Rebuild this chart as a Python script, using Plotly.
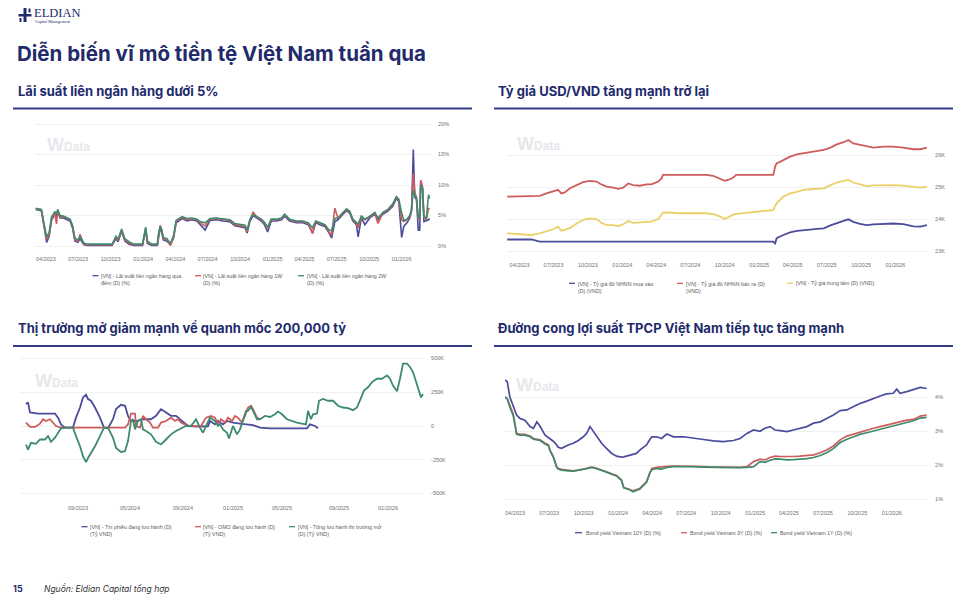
import plotly.graph_objects as go

W, H = 964, 607
NAVY = "#222a6b"
C_BLUE = "#4b4c9c"
C_RED = "#cf5c5c"
C_GREEN = "#3d8b6d"
C_YELLOW = "#ebd067"
GRID = "#f0f0f0"
TICKFONT = dict(family="Liberation Sans, Arial, sans-serif", size=5.5, color="#707070")
LEGFONT = dict(family="Liberation Sans, Arial, sans-serif", size=5.3, color="#5a5a5a")
HEADFONT = "Inter, Roboto, Arial, sans-serif"

# shared quarterly tick labels for the date axes
q_ticks = ["2023-04-01", "2023-07-01", "2023-10-01", "2024-01-01", "2024-04-01", "2024-07-01",
           "2024-10-01", "2025-01-01", "2025-04-01", "2025-07-01", "2025-10-01", "2026-01-01"]
q_labels = ["04/2023", "07/2023", "10/2023", "01/2024", "04/2024", "07/2024",
            "10/2024", "01/2025", "04/2025", "07/2025", "10/2025", "01/2026"]

# ---------------- Chart 1: interbank rates (%) ----------------
ib_dates = [
    "2023-03-03", "2023-03-19", "2023-03-29", "2023-04-03", "2023-04-10", "2023-04-17", "2023-04-26", "2023-05-01", "2023-05-04", "2023-05-11",
    "2023-05-20", "2023-05-29", "2023-06-08", "2023-06-15", "2023-06-22", "2023-07-01", "2023-07-06", "2023-07-17", "2023-07-28", "2023-08-15",
    "2023-09-01", "2023-09-18", "2023-10-05", "2023-10-16", "2023-10-22", "2023-11-01", "2023-11-10", "2023-11-22", "2023-12-05", "2023-12-30",
    "2024-01-08", "2024-01-13", "2024-01-25", "2024-02-10", "2024-02-13", "2024-02-18", "2024-02-22", "2024-02-27", "2024-03-08", "2024-03-18",
    "2024-03-27", "2024-04-03", "2024-04-10", "2024-04-20", "2024-05-04", "2024-05-18", "2024-06-01", "2024-06-10", "2024-06-24", "2024-07-08",
    "2024-07-27", "2024-08-14", "2024-09-02", "2024-09-16", "2024-09-30", "2024-10-15", "2024-10-21", "2024-10-29", "2024-11-07", "2024-11-16",
    "2024-11-30", "2024-12-09", "2024-12-18", "2024-12-28", "2025-01-12", "2025-01-26", "2025-02-04", "2025-02-18", "2025-03-09", "2025-03-28",
    "2025-04-12", "2025-04-24", "2025-05-03", "2025-05-15", "2025-05-29", "2025-06-10", "2025-06-17", "2025-06-26", "2025-07-05", "2025-07-19",
    "2025-07-29", "2025-08-07", "2025-08-16", "2025-08-26", "2025-08-31", "2025-09-09", "2025-09-19", "2025-10-03", "2025-10-17", "2025-10-26",
    "2025-11-09", "2025-11-23", "2025-12-07", "2025-12-17", "2025-12-24", "2026-01-01", "2026-01-07", "2026-01-16", "2026-01-24", "2026-01-29",
    "2026-02-03", "2026-02-07", "2026-02-12", "2026-02-17", "2026-02-21", "2026-02-24", "2026-03-01", "2026-03-05", "2026-03-12", "2026-03-18", "2026-03-21",
]
ib_overnight = [
    6.0, 5.8, 2.4, 0.6, 1.6, 4.3, 5.2, 4.8, 5.6, 4.6,
    4.6, 4.3, 4.1, 3.0, 0.8, 0.6, 1.2, 0.2, 0.1, 0.1,
    0.1, 0.1, 0.1, 1.2, 0.7, 2.4, 0.8, 0.3, 0.1, 0.1,
    2.6, 0.4, 0.1, 0.1, 1.5, 3.0, 2.3, 1.0, 0.8, 0.2,
    1.3, 3.8, 4.1, 4.5, 4.1, 4.3, 4.1, 3.5, 2.6, 4.2,
    4.3, 4.1, 4.0, 3.3, 3.2, 3.0, 2.1, 4.1, 5.0, 4.6,
    4.1, 3.5, 2.3, 4.1, 4.1, 4.3, 4.9, 4.1, 3.8, 3.8,
    3.5, 2.1, 3.8, 3.5, 3.2, 2.1, 1.3, 4.0, 4.3, 5.2,
    5.8, 5.4, 4.1, 3.5, 1.5, 4.6, 3.5, 4.6, 5.2, 4.3,
    5.2, 5.7, 6.5, 7.8, 7.3, 1.4, 3.2, 3.8, 4.6, 5.7,
    15.8, 8.0, 7.6, 2.6, 2.6, 10.8, 9.5, 4.0, 4.1, 4.3, 4.5,
]
ib_1w = [
    6.1, 5.9, 2.6, 1.1, 1.9, 4.6, 5.4, 3.6, 5.8, 4.8,
    4.8, 4.5, 4.3, 3.2, 1.0, 0.8, 1.9, 0.3, 0.2, 0.2,
    0.2, 0.2, 0.2, 1.4, 0.9, 2.6, 1.0, 0.5, 0.2, 0.2,
    2.9, 0.6, 0.2, 0.2, 1.8, 3.4, 2.6, 1.2, 1.0, 0.1,
    1.5, 4.0, 4.3, 4.7, 4.3, 4.5, 4.3, 3.8, 3.3, 4.4,
    4.5, 4.3, 4.2, 3.5, 3.4, 3.2, 2.3, 4.3, 5.6, 4.8,
    4.3, 3.7, 2.9, 4.3, 4.3, 4.5, 5.1, 4.3, 4.0, 4.0,
    3.7, 2.1, 4.0, 3.7, 3.4, 2.3, 1.8, 6.2, 4.5, 5.4,
    6.0, 5.6, 4.3, 3.7, 3.0, 4.8, 4.3, 4.8, 5.4, 3.7,
    5.4, 5.9, 6.7, 8.0, 7.5, 4.3, 4.0, 4.3, 4.8, 5.9,
    11.9, 8.9, 7.8, 4.3, 4.6, 10.8, 9.7, 4.8, 4.3, 6.2, 6.0,
]
ib_2w = [
    6.2, 6.0, 2.9, 1.5, 2.2, 4.8, 5.6, 5.2, 6.0, 5.0,
    4.9, 4.7, 4.4, 3.4, 1.3, 1.0, 1.5, 0.5, 0.3, 0.3,
    0.3, 0.3, 0.3, 1.6, 1.1, 2.8, 1.2, 0.7, 0.3, 0.3,
    3.1, 0.8, 0.3, 0.3, 2.0, 3.2, 2.8, 1.4, 1.2, 0.4,
    1.7, 4.2, 4.5, 4.8, 4.5, 4.6, 4.4, 4.0, 3.8, 4.5,
    4.6, 4.4, 4.3, 3.7, 3.6, 3.4, 2.6, 4.4, 5.1, 4.9,
    4.4, 3.9, 3.1, 4.4, 4.4, 4.6, 5.2, 4.4, 4.1, 4.1,
    3.8, 3.0, 4.1, 3.8, 3.5, 2.6, 2.5, 4.5, 4.6, 5.5,
    6.1, 5.7, 4.4, 3.9, 3.6, 4.9, 4.4, 4.9, 5.5, 4.6,
    5.5, 6.0, 6.9, 8.1, 7.7, 5.4, 4.2, 4.4, 5.0, 6.0,
    9.2, 8.2, 8.0, 4.5, 4.8, 10.0, 9.4, 4.9, 4.5, 8.4, 7.8,
]
ib_names = [
    "[VN] - Lãi suất liên ngân hàng qua<br>đêm (D) (%)",
    "[VN] - Lãi suất liên ngân hàng 1W<br>(D) (%)",
    "[VN] - Lãi suất liên ngân hàng 2W<br>(D) (%)",
]
ib_ticks = [0, 5, 10, 15, 20]
ib_ticktext = ["0%", "5%", "10%", "15%", "20%"]

# ---------------- Chart 2: USD/VND (VND) ----------------
fx_dates = [
    "2023-02-27", "2023-04-02", "2023-05-03", "2023-05-25", "2023-06-12", "2023-06-30", "2023-07-13", "2023-07-22", "2023-07-31", "2023-08-14",
    "2023-09-01", "2023-09-18", "2023-10-06", "2023-10-24", "2023-11-06", "2023-11-20", "2023-12-08", "2023-12-21", "2024-01-03", "2024-01-17",
    "2024-01-30", "2024-02-17", "2024-03-06", "2024-03-19", "2024-04-06", "2024-04-15", "2024-04-19", "2024-04-28", "2024-06-03", "2024-07-09",
    "2024-08-13", "2024-08-31", "2024-09-18", "2024-10-01", "2024-10-10", "2024-10-23", "2024-11-01", "2024-12-07", "2024-12-29", "2025-01-21",
    "2025-02-08", "2025-02-13", "2025-02-17", "2025-03-07", "2025-03-25", "2025-04-12", "2025-04-30", "2025-05-18", "2025-06-05", "2025-06-23",
    "2025-07-11", "2025-07-28", "2025-08-15", "2025-08-28", "2025-09-10", "2025-09-28", "2025-10-16", "2025-11-03", "2025-11-30", "2025-12-26",
    "2026-01-22", "2026-02-18", "2026-03-08", "2026-03-26",
]
fx_buy = [
    23360, 23360, 23360, 23290, 23290, 23290, 23290, 23290, 23290, 23290,
    23290, 23290, 23290, 23290, 23290, 23290, 23290, 23290, 23290, 23290,
    23290, 23290, 23290, 23290, 23290, 23290, 23290, 23290, 23290, 23290,
    23290, 23290, 23290, 23290, 23290, 23290, 23290, 23290, 23290, 23290,
    23290, 23240, 23400, 23500, 23580, 23630, 23660, 23670, 23690, 23710,
    23800, 23880, 23940, 23990, 23910, 23850, 23810, 23830, 23850, 23860,
    23840, 23770, 23760, 23810,
]
fx_sell = [
    24700, 24700, 24720, 24720, 24800, 24850, 24910, 24800, 24830, 24960,
    25060, 25150, 25190, 25170, 25080, 25010, 24980, 24940, 24980, 25110,
    25060, 25040, 25080, 25080, 25170, 25270, 25380, 25380, 25380, 25380,
    25380, 25350, 25270, 25190, 25220, 25290, 25380, 25380, 25380, 25380,
    25380, 25640, 25740, 25840, 25950, 26020, 26050, 26100, 26130, 26160,
    26230, 26330, 26400, 26470, 26360, 26310, 26260, 26230, 26260, 26260,
    26230, 26180, 26180, 26230,
]
fx_central = [
    23550, 23520, 23500, 23550, 23620, 23680, 23760, 23630, 23660, 23720,
    23860, 23970, 24020, 24000, 23880, 23810, 23810, 23780, 23830, 23940,
    23880, 23900, 23920, 23920, 24000, 24150, 24200, 24210, 24180, 24180,
    24180, 24150, 24080, 24000, 24060, 24130, 24160, 24200, 24230, 24250,
    24280, 24400, 24490, 24700, 24800, 24850, 24910, 24930, 24940, 24960,
    25060, 25140, 25190, 25220, 25140, 25090, 25030, 25050, 25060, 25060,
    25040, 24990, 24980, 25010,
]
fx_names = [
    "[VN] - Tỷ giá đô NHNN mua vào<br>(D) (VND)",
    "[VN] - Tỷ giá đô NHNN bán ra (D)<br>(VND)",
    "[VN] - Tỷ giá trung tâm (D) (VND)",
]
fx_ticks = [23000, 24000, 25000, 26000]
fx_ticktext = ["23K", "24K", "25K", "26K"]

# ---------------- Chart 3: open market (ty VND), x = session index ----------------
bills_idx = [4, 6, 8, 16, 33, 36, 39, 43, 51, 54, 58, 61, 64, 66, 69, 73, 78, 82, 86, 91, 94, 99, 103, 106, 109,
             114, 121, 129, 134, 139, 144, 149, 154, 158, 161, 166, 175, 186, 188, 193, 196, 201, 205, 211, 218,
             225, 231, 238, 248, 285, 288, 293, 296]
bills_k = [162, 175, 100, 92, 92, 62, 12, -12, -12, 62, 137, 212, 232, 200, 187, 137, 62, -12, -17, 50, 125, 157, 150, 75, 37,
           37, 50, 50, 75, 125, 100, 75, 75, 50, 25, 0, -5, -2, 37, 12, 37, 12, 37, 25, 17,
           12, 7, -12, -17, -17, 12, 0, -17]
omo_idx = [4, 8, 13, 18, 21, 24, 28, 31, 34, 39, 103, 106, 109, 113, 114, 118, 121, 124, 128, 131, 136, 139, 144, 149, 153,
           156, 159, 164, 169, 179, 184, 189, 193, 196, 199, 203, 206, 210, 213, 216, 220, 223, 226, 229, 231, 235, 238]
omo_k = [25, -7, -7, 17, 50, 37, 50, 25, 0, -12, -12, 12, 92, 92, 0, -12, 75, 50, 25, -12, -12, 25, 37, 62, 37,
         50, 25, 7, 0, 0, 62, 75, 62, 12, 50, 25, 62, 37, 75, 62, 25, 75, 137, 150, 125, 62, 50]
total_idx = [4, 6, 9, 14, 18, 23, 26, 29, 33, 36, 39, 43, 51, 54, 58, 61, 64, 66, 69, 73,
             78, 82, 86, 91, 94, 99, 103, 106, 109, 111, 113, 116, 119, 121, 124, 129, 134, 139, 144, 149,
             154, 159, 164, 169, 174, 178, 181, 184, 188, 193, 196, 198, 201, 205, 207, 211, 215, 218, 221, 224,
             226, 229, 231, 235, 238, 243, 248, 253, 256, 260, 265, 270, 275, 280, 284, 286, 289, 291, 295, 297,
             301, 306, 311, 316, 321, 326, 331, 335, 338, 342, 346, 350, 355, 360, 365, 368, 371, 375, 378, 381,
             385, 388, 391, 393, 396, 399, 401]
total_k = [-137, -175, -125, -132, -100, -100, -75, -117, -87, -50, -17, -12, -12, -75, -150, -225, -267, -237, -200, -150,
           -75, -12, -12, -87, -162, -192, -187, -112, 37, 50, -25, 37, 50, -25, -37, -62, -117, -137, -100, -62,
           -37, -17, 0, 0, 50, -12, -50, 0, 62, 37, 0, 12, -25, -50, -92, 0, -62, -25, 37, 112,
           112, 142, 112, 50, 50, 75, 67, 87, 107, 87, 50, 37, 25, 17, 12, 112, 50, 87, 92, 187,
           200, 187, 187, 150, 137, 132, 117, 137, 187, 262, 287, 325, 350, 350, 375, 350, 300, 257, 350, 462,
           462, 437, 400, 350, 287, 212, 237]
om_names = [
    "[VN] - Tín phiếu đang lưu hành (D)<br>(Tỷ VND)",
    "[VN] - OMO đang lưu hành (D)<br>(Tỷ VND)",
    "[VN] - Tổng lưu hành thị trường mở<br>(D) (Tỷ VND)",
]
om_tick_idx = [56, 108, 161, 211, 260, 317, 366]
om_tick_text = ["09/2023", "05/2024", "09/2024", "01/2025", "05/2025", "09/2025", "01/2026"]
om_yticks = [-500000, -250000, 0, 250000, 500000]
om_ytext = ["-500K", "-250K", "0", "250K", "500K"]

# ---------------- Chart 4: government bond yields (%) ----------------
by_dates = [
    "2023-03-05", "2023-03-11", "2023-03-18", "2023-03-27", "2023-04-05", "2023-04-14", "2023-04-27", "2023-05-11", "2023-05-20", "2023-05-29",
    "2023-06-07", "2023-06-20", "2023-06-29", "2023-07-03", "2023-07-12", "2023-07-21", "2023-07-25", "2023-08-03", "2023-08-08", "2023-08-21",
    "2023-09-03", "2023-09-17", "2023-09-30", "2023-10-09", "2023-10-18", "2023-10-27", "2023-11-05", "2023-11-18", "2023-12-01", "2023-12-15",
    "2023-12-28", "2024-01-10", "2024-01-16", "2024-02-01", "2024-02-10", "2024-02-19", "2024-02-28", "2024-03-17", "2024-03-26", "2024-03-31",
    "2024-04-13", "2024-04-26", "2024-05-10", "2024-05-28", "2024-06-24", "2024-07-20", "2024-08-16", "2024-09-12", "2024-10-08", "2024-11-04",
    "2024-11-22", "2024-12-10", "2024-12-28", "2025-01-14", "2025-01-27", "2025-02-10", "2025-02-23", "2025-03-09", "2025-03-27", "2025-04-13",
    "2025-05-01", "2025-05-19", "2025-06-06", "2025-06-24", "2025-07-11", "2025-07-29", "2025-08-16", "2025-09-03", "2025-09-21", "2025-10-08",
    "2025-10-26", "2025-11-13", "2025-12-01", "2025-12-18", "2026-01-05", "2026-01-14", "2026-01-23", "2026-02-10", "2026-02-28", "2026-03-18",
    "2026-04-04",
]
by_10y = [
    4.50, 4.45, 4.00, 3.72, 3.47, 3.37, 3.32, 3.13, 3.08, 3.27,
    3.13, 2.88, 2.80, 2.78, 2.70, 2.59, 2.52, 2.49, 2.52, 2.59,
    2.64, 2.72, 2.83, 2.93, 3.13, 2.98, 2.83, 2.64, 2.49, 2.34,
    2.26, 2.23, 2.24, 2.29, 2.30, 2.34, 2.44, 2.59, 2.75, 2.83,
    2.83, 2.78, 2.91, 2.83, 2.83, 2.78, 2.75, 2.71, 2.69, 2.72,
    2.78, 2.93, 3.03, 2.99, 3.08, 3.13, 3.03, 3.01, 2.98, 3.03,
    3.08, 3.13, 3.23, 3.27, 3.37, 3.47, 3.60, 3.62, 3.72, 3.81,
    3.88, 3.96, 4.03, 4.09, 4.11, 4.23, 4.11, 4.16, 4.23, 4.28,
    4.25,
]
by_3y = [
    4.00, 3.95, 3.75, 3.50, 2.93, 2.90, 2.90, 2.85, 2.78, 2.76,
    2.74, 2.64, 2.59, 2.44, 2.25, 1.95, 1.90, 1.87, 1.86, 1.84,
    1.83, 1.85, 1.87, 1.90, 1.93, 1.93, 1.90, 1.86, 1.80, 1.74,
    1.69, 1.56, 1.34, 1.28, 1.24, 1.28, 1.31, 1.51, 1.80, 1.90,
    1.93, 1.95, 1.96, 1.97, 1.97, 1.96, 1.95, 1.94, 1.93, 1.93,
    1.93, 1.95, 2.10, 2.17, 2.15, 2.22, 2.26, 2.25, 2.24, 2.25,
    2.26, 2.28, 2.30, 2.36, 2.44, 2.56, 2.74, 2.85, 2.91, 2.98,
    3.03, 3.08, 3.13, 3.18, 3.23, 3.25, 3.27, 3.32, 3.34, 3.44,
    3.47,
]
by_1y = [
    4.00, 3.95, 3.70, 3.45, 2.90, 2.88, 2.88, 2.83, 2.76, 2.74,
    2.72, 2.62, 2.57, 2.42, 2.23, 1.93, 1.88, 1.85, 1.84, 1.83,
    1.82, 1.84, 1.86, 1.89, 1.92, 1.92, 1.89, 1.85, 1.79, 1.73,
    1.68, 1.55, 1.33, 1.27, 1.21, 1.25, 1.29, 1.49, 1.78, 1.86,
    1.90, 1.88, 1.93, 1.95, 1.96, 1.95, 1.94, 1.93, 1.92, 1.92,
    1.92, 1.93, 1.95, 2.10, 2.08, 2.14, 2.18, 2.17, 2.15, 2.16,
    2.17, 2.19, 2.22, 2.28, 2.36, 2.48, 2.66, 2.76, 2.83, 2.90,
    2.95, 3.00, 3.05, 3.10, 3.15, 3.18, 3.22, 3.26, 3.30, 3.38,
    3.40,
]
by_names = [
    "Bond yield Vietnam 10Y (D) (%)",
    "Bond yield Vietnam 3Y (D) (%)",
    "Bond yield Vietnam 1Y (D) (%)",
]
by_ticks = [1, 2, 3, 4]
by_ticktext = ["1%", "2%", "3%", "4%"]


def fx(px):
    return px / W


def fy(py):
    return 1 - py / H


fig = go.Figure()

# chart 1
for vals, col, nm in zip([ib_overnight, ib_1w, ib_2w], [C_BLUE, C_RED, C_GREEN], ib_names):
    fig.add_trace(go.Scatter(x=ib_dates, y=vals, mode="lines", name=nm, xaxis="x", yaxis="y",
                             line=dict(color=col, width=1.6), showlegend=False))
# chart 2
for vals, col, nm in zip([fx_buy, fx_sell, fx_central], [C_BLUE, C_RED, C_YELLOW], fx_names):
    fig.add_trace(go.Scatter(x=fx_dates, y=vals, mode="lines", name=nm, xaxis="x2", yaxis="y2",
                             line=dict(color=col, width=1.8), showlegend=False))
# chart 3
for xs, vals, col, nm in zip([bills_idx, omo_idx, total_idx], [bills_k, omo_k, total_k],
                             [C_BLUE, C_RED, C_GREEN], om_names):
    fig.add_trace(go.Scatter(x=xs, y=[v * 1000 for v in vals], mode="lines", name=nm, xaxis="x3", yaxis="y3",
                             line=dict(color=col, width=1.8), showlegend=False))
# chart 4
for vals, col, nm in zip([by_10y, by_3y, by_1y], [C_BLUE, C_RED, C_GREEN], by_names):
    fig.add_trace(go.Scatter(x=by_dates, y=vals, mode="lines", name=nm, xaxis="x4", yaxis="y4",
                             line=dict(color=col, width=1.7), showlegend=False))

HIDE = "rgba(0,0,0,0)"
xcommon = dict(showgrid=False, zeroline=False, showline=False, ticks="outside", ticklen=6,
               tickcolor=HIDE, tickfont=TICKFONT, fixedrange=True)
ycommon = dict(side="right", showgrid=True, gridcolor=GRID, gridwidth=1, zeroline=False, showline=False,
               ticks="outside", ticklen=5, tickcolor=HIDE, tickfont=TICKFONT, fixedrange=True)

fig.update_layout(
    width=W, height=H, margin=dict(l=0, r=0, t=0, b=0),
    paper_bgcolor="white", plot_bgcolor="rgba(0,0,0,0)", showlegend=False,
    xaxis=dict(xcommon, domain=[fx(35), fx(431)], anchor="y", type="date",
               range=["2023-03-01", "2026-03-25"], tickvals=q_ticks, ticktext=q_labels, ticklen=4),
    yaxis=dict(ycommon, domain=[fy(249.05), fy(120.95)], anchor="x", range=[-0.5, 20.5],
               tickvals=ib_ticks, ticktext=ib_ticktext),
    xaxis2=dict(xcommon, domain=[fx(506.8), fx(928)], anchor="y2", type="date",
                range=["2023-02-26", "2026-03-29"], tickvals=q_ticks, ticktext=q_labels, ticklen=5),
    yaxis2=dict(ycommon, domain=[fy(254.2), fy(119.8)], anchor="x2", range=[22900, 27100],
                tickvals=fx_ticks, ticktext=fx_ticktext),
    xaxis3=dict(xcommon, domain=[fx(20), fx(424)], anchor="y3", range=[-2, 402],
                tickvals=om_tick_idx, ticktext=om_tick_text),
    yaxis3=dict(ycommon, domain=[fy(496.2), fy(355.8)], anchor="x3", range=[-520000, 520000],
                tickvals=om_yticks, ticktext=om_ytext),
    xaxis4=dict(xcommon, domain=[fx(505), fx(927)], anchor="y4", type="date",
                range=["2023-03-05", "2026-04-05"], tickvals=q_ticks, ticktext=q_labels, ticklen=3),
    yaxis4=dict(ycommon, domain=[fy(504.1), fy(368.1)], anchor="x4", range=[0.85, 4.85],
                tickvals=by_ticks, ticktext=by_ticktext, ticklen=6),
)

shapes = []
annotations = []


def hline(x0, x1, y, color, width):
    shapes.append(dict(type="line", xref="paper", yref="paper", x0=fx(x0), x1=fx(x1), y0=fy(y), y1=fy(y),
                       line=dict(color=color, width=width)))


def text(x, y, s, size, color, family=HEADFONT, xanchor="left", align="left", weight=None,
         style=None):
    f = dict(family=family, size=size, color=color)
    if weight is not None:
        f["weight"] = weight
    if style is not None:
        f["style"] = style
    annotations.append(dict(x=fx(x), y=fy(y), xref="paper", yref="paper", text=s, showarrow=False,
                            xanchor=xanchor, yanchor="middle", align=align, font=f, borderpad=0))


# header / logo
shapes.append(dict(type="rect", xref="paper", yref="paper", x0=fx(23.5), x1=fx(26.5), y0=fy(22), y1=fy(8),
                   fillcolor=NAVY, line=dict(width=0)))
shapes.append(dict(type="rect", xref="paper", yref="paper", x0=fx(18.5), x1=fx(31.5), y0=fy(16.5), y1=fy(14),
                   fillcolor=NAVY, line=dict(width=0)))
shapes.append(dict(type="rect", xref="paper", yref="paper", x0=fx(19.5), x1=fx(21.5), y0=fy(22), y1=fy(18),
                   fillcolor=NAVY, line=dict(width=0)))
shapes.append(dict(type="rect", xref="paper", yref="paper", x0=fx(28.5), x1=fx(30.5), y0=fy(12.5), y1=fy(8.5),
                   fillcolor=NAVY, line=dict(width=0)))
text(33, 13.5, "ELDIAN", 12.5, NAVY, family="Liberation Serif, DejaVu Serif, serif")
text(34, 21.5, "Capital Management", 4.2, NAVY, family="Liberation Serif, DejaVu Serif, serif")

text(16, 53, "<b>Diễn biến vĩ mô tiền tệ Việt Nam tuần qua</b>", 20.5, NAVY, weight=800)

# section titles and rules
text(17, 91, "<b>Lãi suất liên ngân hàng dưới 5%</b>", 13, NAVY, weight=800)
text(497, 91, "<b>Tỷ giá USD/VND tăng mạnh trở lại</b>", 13, NAVY, weight=800)
text(17, 328, "<b>Thị trường mở giảm mạnh về quanh mốc 200,000 tỷ</b>", 13, NAVY, weight=800)
text(497, 328, "<b>Đường cong lợi suất TPCP Việt Nam tiếp tục tăng mạnh</b>", 13, NAVY, weight=800)
for yy in (108.5, 346):
    hline(13, 472, yy, "#343b86", 2)
    hline(494, 953, yy, "#343b86", 2)

# watermarks
WM = "#e7e7ec"
for (wx, wy) in [(46, 145), (516, 144), (34, 381), (515, 385)]:
    text(wx, wy, "<b>W<span style='font-size:12px'>Data</span></b>", 18, WM,
         family="Liberation Sans, Arial, sans-serif")


def legend_item(x_line, y_line, color, x_text, y_text, label, length=6):
    hline(x_line, x_line + length, y_line, color, 1.3)
    annotations.append(dict(x=fx(x_text), y=fy(y_text), xref="paper", yref="paper", text=label,
                            showarrow=False, xanchor="left", yanchor="middle", align="left",
                            font=LEGFONT, borderpad=0))


# chart legends
legend_item(92.5, 275.7, C_BLUE, 99.5, 279, ib_names[0])
legend_item(195, 275.7, C_RED, 202, 279, ib_names[1])
legend_item(298, 275.7, C_GREEN, 305.5, 279, ib_names[2])

legend_item(569, 283.3, C_BLUE, 576.5, 287, fx_names[0])
legend_item(677, 283.3, C_RED, 685, 287, fx_names[1])
legend_item(787, 283.3, C_YELLOW, 795, 283.3, fx_names[2])

legend_item(81.5, 526.7, C_BLUE, 88.5, 530, om_names[0])
legend_item(195, 526.7, C_RED, 202, 530, om_names[1])
legend_item(289, 526.7, C_GREEN, 296.5, 530, om_names[2])

legend_item(575, 532.7, C_BLUE, 585, 532.7, by_names[0], length=7)
legend_item(681, 532.7, C_RED, 688.5, 532.7, by_names[1])
legend_item(771, 532.7, C_GREEN, 779, 532.7, by_names[2])

# footer
text(11.5, 588, "<b>15</b>", 9, NAVY, weight=800)
text(43, 588, "<i>Nguồn: Eldian Capital tổng hợp</i>", 8.5, "#333333", style="italic")

fig.update_layout(shapes=shapes, annotations=annotations)
fig.write_html("out.html")
